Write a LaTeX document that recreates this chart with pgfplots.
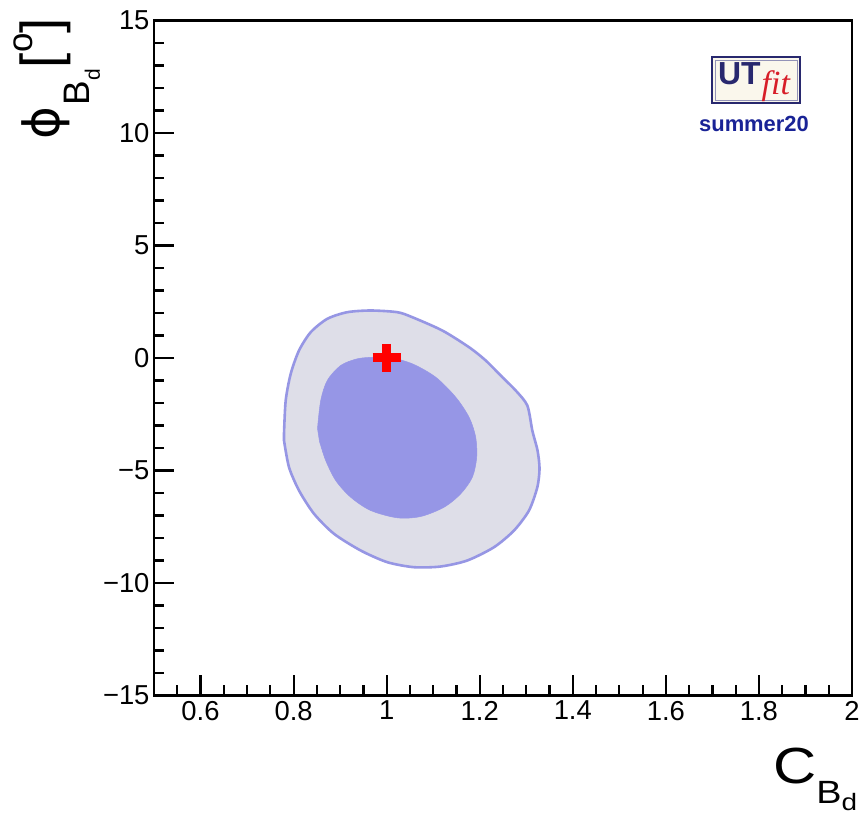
\documentclass[border=0pt]{standalone}
\usepackage{fontspec}
\setmainfont{Liberation Sans}
\newfontfamily\dejavu{DejaVu Sans}
\newfontfamily\serifit{Liberation Serif}
\usepackage{pgfplots}
\pgfplotsset{compat=1.18}
\definecolor{outerfill}{RGB}{222,222,232}
\definecolor{outerline}{RGB}{150,150,228}
\definecolor{innerfill}{RGB}{150,150,230}
\definecolor{logonavy}{RGB}{40,40,110}
\definecolor{logored}{RGB}{215,30,40}
\definecolor{logobg}{RGB}{250,247,236}
\definecolor{summerblue}{RGB}{25,35,150}
\begin{document}
\begin{tikzpicture}
\useasboundingbox (-154bp,-121.5bp) rectangle (709bp,695.5bp);
\begin{axis}[
  at={(0,0)}, anchor=south west,
  scale only axis, width=698bp, height=675bp,
  xmin=0.5, xmax=2, ymin=-15, ymax=15,
  axis line style={line width=2.4bp},
  tick pos=left, tick align=inside,
  xtick={0.6,0.8,1,1.2,1.4,1.6,1.8,2},
  xticklabels={0.6,0.8,1,1.2,1.4,1.6,1.8,2},
  minor xtick={0.55,0.65,0.7,0.75,0.85,0.9,0.95,1.05,1.1,1.15,1.25,1.3,1.35,1.45,1.5,1.55,1.65,1.7,1.75,1.85,1.9,1.95},
  ytick={-15,-10,-5,0,5,10,15},
  yticklabels={−15,−10,−5,0,5,10,15},
  minor ytick={-14,-13,-12,-11,-9,-8,-7,-6,-4,-3,-2,-1,1,2,3,4,6,7,8,9,11,12,13,14},
  major tick length=20bp, minor tick length=10bp,
  every tick/.style={black, line width=2.2bp},
  ticklabel style={font=\fontsize{27.5}{27.5}\selectfont},
  xticklabel style={yshift=-2bp},
  yticklabel style={xshift=-1bp},
]
\addplot[fill=outerfill, draw=outerline, line width=2.6bp, smooth, tension=0.45] coordinates {
(0.7794,-3.356)(0.7830,-1.889)(0.7938,-0.702)(0.8116,0.333)(0.8368,1.147)(0.8724,1.742)(0.9154,2.036)(0.9657,2.111)(1.0229,2.036)(1.0551,1.813)(1.1196,1.222)(1.177,0.48)(1.2129,-0.111)(1.2486,-0.853)(1.2773,-1.444)(1.3023,-2.111)(1.313,-3.222)(1.3242,-4.111)(1.3285,-4.911)(1.3238,-5.742)(1.3059,-6.778)(1.2737,-7.667)(1.2307,-8.409)(1.1733,-9.0)(1.1162,-9.267)(1.0588,-9.298)(1.0014,-9.076)(0.9442,-8.556)(0.8868,-7.813)(0.8439,-6.924)(0.8116,-5.889)(0.7901,-4.853)(0.7794,-3.667)
} -- cycle;
\addplot[fill=innerfill, draw=innerfill, line width=0.5bp, smooth, tension=0.5] coordinates {
(0.8514,-3.133)(0.8583,-1.889)(0.8724,-1.0)(0.9012,-0.333)(0.9369,-0.036)(0.9728,0.036)(1.005,0.036)(1.0551,-0.258)(1.1054,-0.853)(1.1484,-1.742)(1.177,-2.631)(1.191,-3.489)(1.1935,-4.409)(1.1841,-5.298)(1.1591,-6.036)(1.1233,-6.631)(1.0732,-7.044)(1.0229,-7.102)(0.9657,-6.778)(0.9227,-6.187)(0.8905,-5.444)(0.869,-4.556)(0.8557,-3.711)
} -- cycle;
\addplot[only marks, mark=+, mark size=14bp, red, mark options={line width=9bp, red}] coordinates {(1,0)};
\end{axis}
% logo
\draw[logonavy, line width=1.6bp, fill=logobg] (558bp,592.5bp) rectangle (646bp,638.5bp);
\draw[logonavy!50, line width=0.6bp] (561bp,595.5bp) rectangle (643bp,635.5bp);
\node[anchor=base west, inner sep=0] at (564bp,610.5bp) {{\color{logonavy}\fontsize{32}{32}\selectfont\bfseries UT}\kern1bp\raisebox{-10bp}{\color{logored}\serifit\fontsize{34}{34}\selectfont\itshape fit}};
\node[anchor=base, inner sep=0, text=summerblue] at (600bp,563.5bp) {\fontsize{22}{22}\selectfont\bfseries summer20};
% x label
\node[anchor=base west, inner sep=0] at (619bp,-88bp) {\scalebox{1}[0.85]{\fontsize{60}{60}\selectfont C\raisebox{-23bp}{\fontsize{38}{38}\selectfont B\raisebox{-9bp}{\fontsize{28}{28}\selectfont d}}}};
% y label
\node[anchor=base west, inner sep=0, rotate=90] at (-94bp,556bp) {{\dejavu\fontsize{50}{50}\selectfont ϕ}\kern1bp\raisebox{-30bp}{\fontsize{37}{37}\selectfont B\raisebox{-10bp}{\fontsize{21}{21}\selectfont d}}\kern1bp{\fontsize{55}{55}\selectfont [}\raisebox{27bp}{\fontsize{35}{35}\selectfont o}{\fontsize{55}{55}\selectfont ]}};
\end{tikzpicture}
\end{document}
